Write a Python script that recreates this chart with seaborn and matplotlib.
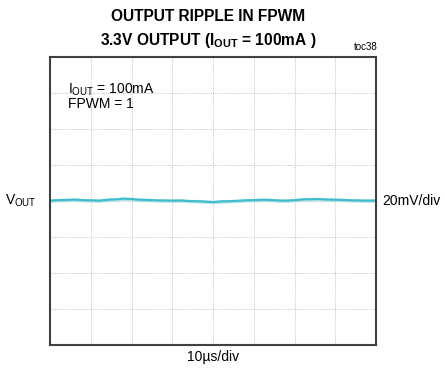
import matplotlib
matplotlib.use("Agg")
import matplotlib.pyplot as plt
import seaborn as sns
import pandas as pd
import numpy as np

sns.set_style("white")
plt.rcParams["font.family"] = ["Liberation Sans", "DejaVu Sans"]
plt.rcParams["text.color"] = "black"
plt.rcParams["mathtext.fontset"] = "custom"
plt.rcParams["mathtext.rm"] = "Liberation Sans"
plt.rcParams["mathtext.bf"] = "Liberation Sans:bold"

# time in microseconds (10us/div, 8 divisions)
time_us = [0, 2, 4, 6, 8, 10, 12, 14, 16, 18, 20, 22, 24, 26, 28, 30, 32, 34, 36, 38, 40,
           42, 44, 46, 48, 50, 52, 54, 56, 58, 60, 62, 64, 66, 68, 70, 72, 74, 76, 78, 80]
# VOUT ripple in mV (20mV/div)
vout_mv = [0.2, 0.5, 0.6, 0.8, 0.5, 0.4, 0.2, 0.7, 0.9, 1.3, 1.1, 0.7, 0.6, 0.4, 0.3, 0.2, 0.3,
           0.0, -0.1, -0.3, -0.6, -0.2, -0.1, 0.1, 0.4, 0.5, 0.7, 0.6, 0.3, 0.2, 0.5, 0.9, 1.0,
           1.1, 0.8, 0.7, 0.6, 0.4, 0.3, 0.2, 0.3]

df = pd.DataFrame({"t": time_us, "v": vout_mv})

fig = plt.figure(figsize=(4.45, 3.74), dpi=100)
ax = fig.add_axes([0.1124, 0.0775, 0.7326, 0.770])

ax.fill_between(df["t"], df["v"] - 1.0, df["v"] + 1.0, color="#8ad6de", alpha=0.6, lw=0)
sns.lineplot(data=df, x="t", y="v", ax=ax, color="#3dbccb", lw=1.5)

ax.set_xlim(0, 80)
ax.set_ylim(-80, 80)
ax.set_xticks(np.arange(0, 81, 10))
ax.set_yticks(np.arange(-80, 81, 20))
ax.grid(True, color="#c4c4c4", linestyle=(0, (1, 1.2)), linewidth=0.7)
ax.tick_params(left=False, bottom=False, labelleft=False, labelbottom=False)
ax.set_xlabel("")
ax.set_ylabel("")
for s in ax.spines.values():
    s.set_color("#404040")
    s.set_linewidth(1.5)

fig.text(0.468, 0.955, "OUTPUT RIPPLE IN FPWM", ha="center", va="center",
         fontsize=11.2, fontweight="bold")
fig.text(0.468, 0.893, r"3.3V OUTPUT (I$_{\mathbf{OUT}}$ = 100mA )", ha="center", va="center",
         fontsize=11.2, fontweight="bold")
fig.text(0.848, 0.873, "toc38", ha="right", va="center", fontsize=7)
fig.text(0.152, 0.760, r"I$_{\mathrm{OUT}}$ = 100mA", ha="left", va="center", fontsize=10)
fig.text(0.152, 0.721, "FPWM = 1", ha="left", va="center", fontsize=10)
fig.text(0.012, 0.463, r"V$_{\mathrm{OUT}}$", ha="left", va="center", fontsize=10)
fig.text(0.860, 0.463, "20mV/div", ha="left", va="center", fontsize=10)
fig.text(0.478, 0.045, "10µs/div", ha="center", va="center", fontsize=10)

fig.savefig("out.png", dpi=100)
